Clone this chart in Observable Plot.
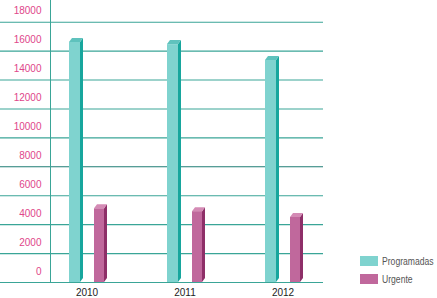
<!DOCTYPE html>
<html>
<head>
<meta charset="utf-8">
<script src="https://cdn.jsdelivr.net/npm/d3@7"></script>
<script src="https://cdn.jsdelivr.net/npm/@observablehq/plot@0.6"></script>
<style>
  html, body { margin: 0; padding: 0; background: #fff; }
  #wrap { position: relative; width: 437px; height: 298px; font-family: "Liberation Sans Narrow", "Liberation Sans", sans-serif; }
  #legend { position: absolute; left: 360px; top: 252px; font-size: 10px; color: #555; }
  .item { display: flex; align-items: center; height: 18px; white-space: nowrap; }
  .sw { width: 18px; height: 10px; margin-right: 4px; flex: none; }
  .tx { display: inline-block; transform: scaleX(0.86); transform-origin: left center; }
</style>
</head>
<body>
<div id="wrap"><div id="legend"></div></div>
<script>
const years = ["2010", "2011", "2012"];
const seriesNames = ["Programadas", "Urgente"];
const programadas = [16600, 16450, 15350];
const urgente = [5100, 4900, 4500];
const yTicks = [0, 2000, 4000, 6000, 8000, 10000, 12000, 14000, 16000, 18000];

const frontColors = ["#7fd3cf", "#c0689c"];
const sideColors = ["#17a69d", "#8e2f68"];
const capColors = ["#5fc2bd", "#d48bb5"];

const rows = [];
years.forEach((yr, i) => {
  rows.push({year: yr, series: seriesNames[0], value: programadas[i], k: 0});
  rows.push({year: yr, series: seriesNames[1], value: urgente[i], k: 1});
});

// band-relative insets for the two series inside each year band
const insets = [{l: 5, r: 33}, {l: 30, r: 9}];
const depthX = 3, depthY = 4;

function depthMark(index, scales, values, dims) {
  const g = d3.create("svg:g");
  const x = scales.x, y = scales.y;
  const bw = x.bandwidth();
  for (const r of rows) {
    const x0 = x(r.year);
    const xl = x0 + insets[r.k].l;
    const xr = x0 + bw - insets[r.k].r;
    const yt = y(r.value), yb = y(0);
    g.append("polygon")
      .attr("points", [[xr, yt], [xr + depthX, yt - depthY], [xr + depthX, yb - depthY], [xr, yb]].join(" "))
      .attr("fill", sideColors[r.k]);
    g.append("polygon")
      .attr("points", [[xl, yt], [xl + depthX, yt - depthY], [xr + depthX, yt - depthY], [xr, yt]].join(" "))
      .attr("fill", capColors[r.k]);
  }
  return g.node();
}

function axisLine(index, scales, values, dims) {
  const g = d3.create("svg:g");
  g.append("line")
    .attr("x1", dims.marginLeft + 0.5).attr("x2", dims.marginLeft + 0.5)
    .attr("y1", 0).attr("y2", scales.y(0))
    .attr("stroke", "#3aa597").attr("stroke-width", 1);
  return g.node();
}

const chart = Plot.plot({
  width: 437,
  height: 298,
  marginLeft: 50,
  marginRight: 114,
  marginTop: 0,
  marginBottom: 16,
  style: {fontFamily: '"Liberation Sans Narrow", "Liberation Sans", sans-serif', background: "transparent"},
  x: {type: "band", domain: years, paddingInner: 0.5, paddingOuter: 0.13, label: null},
  y: {domain: [0, 19500], label: null},
  marks: [
    Plot.ruleY(yTicks, {stroke: d => d === 8000 ? "#1f7c74" : "#3aa597", strokeWidth: 1.1, insetLeft: -50}),
    axisLine,
    Plot.barY(rows.filter(d => d.k === 0), {x: "year", y: "value", fill: frontColors[0], insetLeft: insets[0].l, insetRight: insets[0].r}),
    Plot.barY(rows.filter(d => d.k === 1), {x: "year", y: "value", fill: frontColors[1], insetLeft: insets[1].l, insetRight: insets[1].r}),
    depthMark,
    Plot.axisY({ticks: yTicks, tickFormat: d3.format("d"), tickSize: 0, tickPadding: 9, dy: -11, fill: "#e0468a", fontSize: 10, label: null}),
    Plot.axisX({tickSize: 0, tickPadding: 6, dx: -2, fill: "#222", fontSize: 10, label: null})
  ]
});
document.getElementById("wrap").prepend(chart);

const legend = document.getElementById("legend");
seriesNames.forEach((s, i) => {
  const it = document.createElement("div");
  it.className = "item";
  const sw = document.createElement("div");
  sw.className = "sw";
  sw.style.background = frontColors[i];
  const tx = document.createElement("span");
  tx.className = "tx";
  tx.textContent = s;
  it.appendChild(sw);
  it.appendChild(tx);
  legend.appendChild(it);
});
</script>
</body>
</html>
